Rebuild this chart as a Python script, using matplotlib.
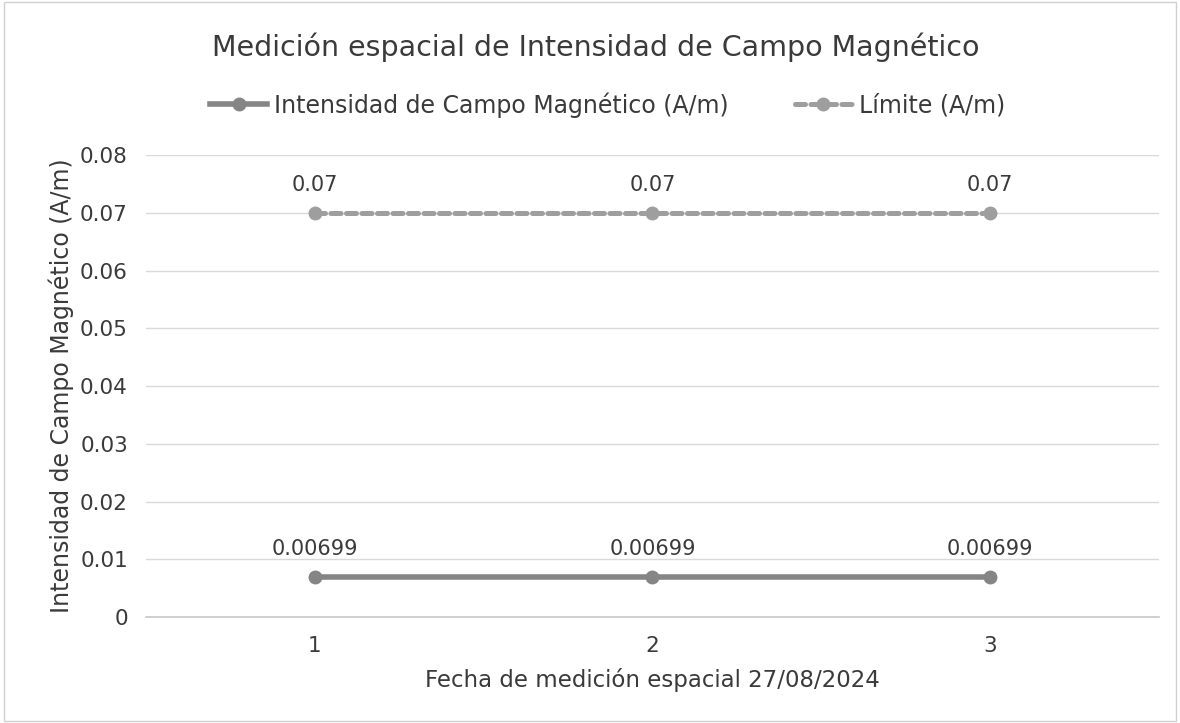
import matplotlib
matplotlib.use('Agg')
import matplotlib.pyplot as plt

#--------------
# Chart data
#--------------
categories = ['1', '2', '3']
intensidad = [0.00699, 0.00699, 0.00699]
limite = [0.07, 0.07, 0.07]
intensidad_labels = ['0.00699', '0.00699', '0.00699']
limite_labels = ['0.07', '0.07', '0.07']
y_ticks = [0, 0.01, 0.02, 0.03, 0.04, 0.05, 0.06, 0.07, 0.08]
y_tick_labels = ['0', '0.01', '0.02', '0.03', '0.04', '0.05', '0.06', '0.07', '0.08']

plt.rcParams['font.family'] = ['DejaVu Sans']
txt_col = '#3a3a3a'

fig = plt.figure(figsize=(11.8, 7.23), dpi=100)
ax = fig.add_axes([0.1237, 0.1466, 0.8585, 0.639])

x = range(1, len(categories) + 1)
solid_col = '#858585'
dash_col = '#9e9e9e'

ax.plot(x, intensidad, '-o', color=solid_col, lw=4, ms=9,
        label='Intensidad de Campo Magnético (A/m)', zorder=3)
ax.plot(x, limite, '--o', color=dash_col, lw=3.6, ms=9, dashes=(2.0, 1.1),
        dash_capstyle='round', label='Límite (A/m)', zorder=3)

for xi, yi, lab in zip(x, intensidad, intensidad_labels):
    ax.annotate(lab, (xi, yi), xytext=(0, 13), textcoords='offset points',
                ha='center', va='bottom', fontsize=15, color=txt_col)
for xi, yi, lab in zip(x, limite, limite_labels):
    ax.annotate(lab, (xi, yi), xytext=(0, 13), textcoords='offset points',
                ha='center', va='bottom', fontsize=15, color=txt_col)

ax.set_xlim(0.5, len(categories) + 0.5)
ax.set_ylim(0, 0.08)
ax.set_xticks(list(x))
ax.set_xticklabels(categories)
ax.set_yticks(y_ticks)
ax.set_yticklabels(y_tick_labels)
ax.tick_params(length=0, labelsize=15.5, labelcolor=txt_col)
ax.tick_params(axis='y', pad=13)
ax.tick_params(axis='x', pad=14)
ax.grid(axis='y', color='#d9d9d9', lw=1)
ax.axhline(0, color='#c8c8c8', lw=1.2, clip_on=False, zorder=1)
ax.set_axisbelow(True)
for s in ax.spines.values():
    s.set_visible(False)

ax.set_xlabel('Fecha de medición espacial 27/08/2024', fontsize=16.5, color=txt_col, labelpad=8)
ax.set_ylabel('Intensidad de Campo Magnético (A/m)', fontsize=17, color=txt_col, labelpad=4)

fig.text(0.505, 0.935, 'Medición espacial de Intensidad de Campo Magnético',
         ha='center', va='center', fontsize=20.5, color=txt_col)
fig.legend(loc='center', bbox_to_anchor=(0.515, 0.855), ncol=2, frameon=False,
           fontsize=17, handlelength=2.4, handletextpad=0.3, columnspacing=2.8,
           labelcolor=txt_col)

fig.patches.append(plt.Rectangle((0.003, 0.003), 0.994, 0.994, transform=fig.transFigure,
                                 fill=False, edgecolor='#d0d0d0', lw=1))

fig.savefig('out.png', dpi=100)
